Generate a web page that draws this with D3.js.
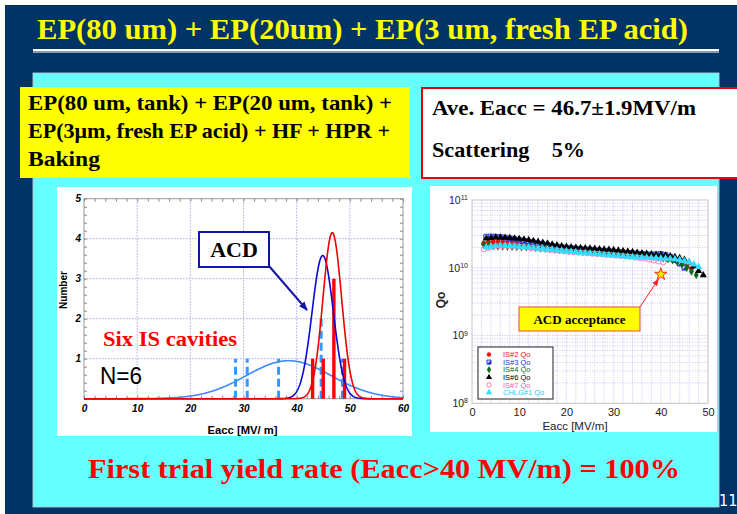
<!DOCTYPE html>
<html>
<head>
<meta charset="utf-8">
<script src="https://cdn.jsdelivr.net/npm/d3@7"></script>
<style>
  html, body { margin: 0; padding: 0; background: #fff; }
  svg { display: block; }
</style>
</head>
<body>
<svg id="slide" width="737" height="514"></svg>
<script>
// ---------- text ----------
const titleText = "EP(80 um) + EP(20um) + EP(3 um, fresh EP acid)";
const recipeLines = ["EP(80 um, tank) + EP(20 um, tank) +", "EP(3\u03bcm, fresh EP acid) + HF + HPR +", "Baking"];
const summaryLines = ["Ave. Eacc = 46.7\u00b11.9MV/m", "Scattering    5%"];
const yieldText = "First trial yield rate (Eacc>40 MV/m) = 100%";
const pageNumber = "11";

// ---------- histogram of Eacc (left plot) ----------
const eaccBins = [43, 45, 47, 49];            // MV/m, red bars
const eaccCounts = [1, 1, 3, 1];
const earlierBins = [28.5, 30.7, 36.6, 44.6, 48.6]; // MV/m, dashed blue bars
const earlierCounts = [1, 1, 1, 2, 1];
// normal-distribution fits: mean, sigma, peak height
const fitMeans = [38.5, 44.9, 46.7];
const fitSigmas = [8.0, 2.0, 1.75];
const fitPeaks = [0.95, 3.58, 4.15];
const fitColors = ["#3d8bff", "#0a0ad0", "#ee0000"];
const histXTicks = [0, 10, 20, 30, 40, 50, 60];
const histYTicks = [1, 2, 3, 4, 5];

// ---------- Qo vs Eacc (right plot), Qo in units of 1e10 ----------
const seriesNames = ["IS#2 Qo", "IS#3 Qo", "IS#4 Qo", "IS#6 Qo", "IS#7 Qo", "CHLG#1 Qo"];
const is2Eacc = [2.5,3.5,4.5,5.5,6.5,7.5,8.5,9.5,10.5,11.5,12.5,13.5,14.5,15.5,16.5,17.5,18.5,19.5,20.5,21.5,22.5,23.5,24.5,25.5,26.5,27.5,28.5,29.5,30.5,31.5,32.5,33.5,34.5,35.5,36.5,37.5,38.5,39.5,40.5,41.5,42.5,43.5,44.5,45.5,46.5];
const is2Q    = [2.30,2.40,2.42,2.42,2.40,2.38,2.35,2.32,2.28,2.25,2.21,2.17,2.13,2.09,2.05,2.02,1.99,1.96,1.93,1.90,1.87,1.85,1.82,1.79,1.77,1.74,1.71,1.69,1.66,1.64,1.61,1.59,1.56,1.53,1.50,1.47,1.44,1.41,1.38,1.34,1.30,1.24,1.16,1.07,0.98];
const is3Eacc = [3,4,5,6,7,8,9,10,11,12,13,14,15,16,17,18,19,20,21,22,23,24,25,26,27,28,29,30,31,32,33,34,35,36,37,38,39,40,41,42,43,44,45];
const is3Q    = [2.88,2.90,2.88,2.84,2.78,2.72,2.65,2.58,2.50,2.43,2.36,2.29,2.22,2.16,2.10,2.05,2.01,1.98,1.95,1.92,1.89,1.87,1.85,1.82,1.80,1.78,1.76,1.73,1.71,1.68,1.66,1.64,1.62,1.60,1.58,1.57,1.58,1.60,1.55,1.45,1.30,1.15,1.00];
const is4Eacc = [2.5,3.5,4.5,5.5,6.5,7.5,8.5,9.5,10.5,11.5,12.5,13.5,14.5,15.5,16.5,17.5,18.5,19.5,20.5,21.5,22.5,23.5,24.5,25.5,26.5,27.5,28.5,29.5,30.5,31.5,32.5,33.5,34.5,35.5,36.5,37.5,38.5,39.5,40.5,41.5,42.5,43.5,44.5,45.5,46.5,47.5];
const is4Q    = [2.20,2.12,2.08,2.06,2.05,2.04,2.03,2.02,2.01,2.00,1.98,1.96,1.94,1.92,1.90,1.88,1.86,1.84,1.82,1.80,1.78,1.76,1.74,1.72,1.70,1.68,1.66,1.64,1.62,1.60,1.58,1.56,1.54,1.52,1.50,1.47,1.44,1.41,1.38,1.34,1.29,1.22,1.12,1.00,0.88,0.78];
const is6Eacc = [3,4,5,6,7,8,9,10,11,12,13,14,15,16,17,18,19,20,21,22,23,24,25,26,27,28,29,30,31,32,33,34,35,36,37,38,39,40,41,42,43,44,45,46,47,48,49];
const is6Q    = [2.70,2.76,2.80,2.80,2.78,2.76,2.72,2.68,2.63,2.57,2.50,2.43,2.36,2.29,2.22,2.16,2.10,2.05,2.02,1.99,1.97,1.95,1.93,1.91,1.89,1.87,1.85,1.83,1.80,1.77,1.74,1.71,1.68,1.65,1.62,1.59,1.57,1.55,1.52,1.49,1.45,1.40,1.32,1.20,1.05,0.90,0.78];
const is7Eacc = [2.5,3.5,4.5,5.5,6.5,7.5,8.5,9.5,10.5,11.5,12.5,13.5,14.5,15.5,16.5,17.5,18.5,19.5,20.5,21.5,22.5,23.5,24.5,25.5,26.5,27.5,28.5,29.5,30.5,31.5,32.5,33.5,34.5,35.5,36.5,37.5,38.5,39.5,40.5];
const is7Q    = [1.88,1.96,2.02,2.06,2.08,2.08,2.07,2.05,2.02,1.99,1.96,1.92,1.89,1.86,1.83,1.80,1.77,1.74,1.71,1.69,1.67,1.65,1.63,1.61,1.59,1.57,1.55,1.53,1.51,1.49,1.47,1.45,1.42,1.39,1.36,1.32,1.28,1.24,1.20];
const chlgEacc = [3,4,5,6,7,8,9,10,11,12,13,14,15,16,17,18,19,20,21,22,23,24,25,26,27,28,29,30,31,32,33,34,35,36,37,38,39,40,41,42,43,44,45,46,47,48];
const chlgQ    = [2.00,2.06,2.10,2.12,2.12,2.11,2.09,2.06,2.03,2.00,1.97,1.94,1.91,1.88,1.85,1.82,1.79,1.76,1.73,1.71,1.68,1.66,1.63,1.61,1.59,1.56,1.54,1.52,1.50,1.48,1.46,1.45,1.43,1.42,1.41,1.40,1.39,1.38,1.37,1.36,1.34,1.31,1.26,1.20,1.12,1.03];
const qoXTicks = [0, 10, 20, 30, 40, 50];
const qoYTicks = [1e8, 1e9, 1e10, 1e11];
const acceptanceEacc = 40;     // MV/m
const acceptanceQ = 8e9;

// ---------- drawing ----------
const SERIF = "'Liberation Serif','Times New Roman',Times,serif";
const SANS = "'Liberation Sans',Arial,Helvetica,sans-serif";
const svg = d3.select("#slide");

const defs = svg.append("defs");
function arrowMarker(id, color, size) {
  defs.append("marker").attr("id", id)
    .attr("viewBox", "0 0 10 10").attr("refX", 9).attr("refY", 5)
    .attr("markerUnits", "userSpaceOnUse")
    .attr("markerWidth", size).attr("markerHeight", size)
    .attr("orient", "auto")
    .append("path").attr("d", "M0,1 L10,5 L0,9 Z").attr("fill", color);
}
arrowMarker("arrowBlue", "#1414a8", 9);
arrowMarker("arrowRed", "#ff2020", 7);

// slide background
svg.append("rect").attr("width", 737).attr("height", 514).attr("fill", "#fff");
svg.append("rect").attr("x", 5).attr("y", 5).attr("width", 732).attr("height", 509).attr("fill", "#003366");

svg.append("text").attr("x", 37).attr("y", 39)
  .attr("font-family", SERIF).attr("font-weight", "bold").attr("font-size", 30)
  .attr("fill", "#ffff00").attr("textLength", 651).attr("lengthAdjust", "spacingAndGlyphs")
  .text(titleText);

svg.append("rect").attr("x", 33).attr("y", 49).attr("width", 686).attr("height", 2.5).attr("fill", "#ffffff");
svg.append("rect").attr("x", 33).attr("y", 51.5).attr("width", 686).attr("height", 1.5).attr("fill", "#8a9ab0");

// cyan content panel
svg.append("rect").attr("x", 33).attr("y", 73).attr("width", 686).attr("height", 434)
  .attr("fill", "#66ffff").attr("stroke", "#a8c0d0").attr("stroke-width", 1);

// recipe box
svg.append("rect").attr("x", 20).attr("y", 87).attr("width", 390).attr("height", 91).attr("fill", "#ffff00");
const recipeWidths = [364, 362, 72];
recipeLines.forEach((t, i) => {
  svg.append("text").attr("x", 28).attr("y", 110 + i * 28)
    .attr("font-family", SERIF).attr("font-weight", "bold").attr("font-size", 21)
    .attr("fill", "#000").attr("textLength", recipeWidths[i]).attr("lengthAdjust", "spacingAndGlyphs")
    .text(t);
});

// summary box
svg.append("rect").attr("x", 422).attr("y", 88).attr("width", 320).attr("height", 90)
  .attr("fill", "#fff").attr("stroke", "#ee0000").attr("stroke-width", 2);
const summaryWidths = [264, 153];
summaryLines.forEach((t, i) => {
  svg.append("text").attr("x", 432).attr("y", 115 + i * 42)
    .attr("font-family", SERIF).attr("font-weight", "bold").attr("font-size", 21)
    .attr("fill", "#000").attr("textLength", summaryWidths[i]).attr("lengthAdjust", "spacingAndGlyphs")
    .attr("xml:space", "preserve").style("white-space", "pre")
    .text(t);
});

// ---------- left plot: distribution of Eacc ----------
svg.append("rect").attr("x", 57).attr("y", 187).attr("width", 355).attr("height", 249).attr("fill", "#fff");
const xH = d3.scaleLinear().domain([0, 60]).range([84, 403]);
const yH = d3.scaleLinear().domain([0, 5]).range([398.7, 198.7]);
const gH = svg.append("g");

// dotted grid
gH.append("g").selectAll("line").data(histYTicks.slice(0, -1)).join("line")
  .attr("x1", xH(0)).attr("x2", xH(60)).attr("y1", d => yH(d)).attr("y2", d => yH(d))
  .attr("stroke", "#a8a8f0").attr("stroke-width", 1).attr("stroke-dasharray", "1.5,1.5");
gH.append("g").selectAll("line").data(histXTicks.slice(1, -1)).join("line")
  .attr("x1", d => xH(d)).attr("x2", d => xH(d)).attr("y1", yH(0)).attr("y2", yH(5))
  .attr("stroke", "#a8a8f0").attr("stroke-width", 1).attr("stroke-dasharray", "1.5,1.5");

// frame + minor ticks
gH.append("rect").attr("x", xH(0)).attr("y", yH(5)).attr("width", xH(60) - xH(0)).attr("height", yH(0) - yH(5))
  .attr("fill", "none").attr("stroke", "#9a9a9a").attr("stroke-width", 1);
const hMinorY = d3.range(0, 5.001, 0.2);
const hMinorX = d3.range(0, 60.001, 2);
gH.append("g").attr("transform", `translate(${xH(0)},0)`).call(d3.axisLeft(yH).tickValues(hMinorY).tickSize(-3).tickFormat(""))
  .call(g => g.select(".domain").remove()).selectAll("line").attr("stroke", "#888");
gH.append("g").attr("transform", `translate(${xH(60)},0)`).call(d3.axisRight(yH).tickValues(hMinorY).tickSize(-3).tickFormat(""))
  .call(g => g.select(".domain").remove()).selectAll("line").attr("stroke", "#888");
gH.append("g").attr("transform", `translate(0,${yH(0)})`).call(d3.axisBottom(xH).tickValues(hMinorX).tickSize(-3).tickFormat(""))
  .call(g => g.select(".domain").remove()).selectAll("line").attr("stroke", "#888");
gH.append("g").attr("transform", `translate(0,${yH(5)})`).call(d3.axisTop(xH).tickValues(hMinorX).tickSize(-3).tickFormat(""))
  .call(g => g.select(".domain").remove()).selectAll("line").attr("stroke", "#888");

// tick labels
const hyAxis = gH.append("g").attr("transform", `translate(${xH(0)},0)`)
  .call(d3.axisLeft(yH).tickValues(histYTicks).tickSize(0).tickPadding(3).tickFormat(d3.format("d")));
const hxAxis = gH.append("g").attr("transform", `translate(0,${yH(0)})`)
  .call(d3.axisBottom(xH).tickValues(histXTicks).tickSize(0).tickPadding(6).tickFormat(d3.format("d")));
[hyAxis, hxAxis].forEach(a => {
  a.select(".domain").remove();
  a.selectAll("text").attr("font-family", SANS).attr("font-weight", "bold").attr("font-style", "italic")
    .attr("font-size", 10).attr("fill", "#000");
});
gH.append("text").attr("transform", "translate(67,290) rotate(-90)").attr("text-anchor", "middle")
  .attr("font-family", SANS).attr("font-weight", "bold").attr("font-size", 11).attr("fill", "#000")
  .attr("textLength", 38).attr("lengthAdjust", "spacingAndGlyphs").text("Number");
gH.append("text").attr("x", 242.5).attr("y", 434).attr("text-anchor", "middle")
  .attr("font-family", SANS).attr("font-weight", "bold").attr("font-size", 10).attr("fill", "#000")
  .attr("textLength", 70).attr("lengthAdjust", "spacingAndGlyphs").text("Eacc [MV/ m]");

// fitted normal curves
const fitX = d3.range(0, 60.001, 0.1);
const fitLine = d3.line().x(d => xH(d[0])).y(d => yH(d[1]));
function fitPoints(i) {
  return fitX.map(x => [x, fitPeaks[i] * Math.exp(-((x - fitMeans[i]) ** 2) / (2 * fitSigmas[i] ** 2))]);
}
gH.append("path").datum(fitPoints(0)).attr("d", fitLine)
  .attr("fill", "none").attr("stroke", fitColors[0]).attr("stroke-width", 1.6);

// earlier results: dashed bars
gH.append("g").selectAll("line").data(earlierBins).join("line")
  .attr("x1", d => xH(d)).attr("x2", d => xH(d))
  .attr("y1", yH(0)).attr("y2", (d, i) => yH(earlierCounts[i]))
  .attr("stroke", "#3399ff").attr("stroke-width", 3).attr("stroke-dasharray", "8,4");

// six IS cavities: red bars
const barHalf = 0.32;
gH.append("g").selectAll("rect").data(eaccBins).join("rect")
  .attr("x", d => xH(d - barHalf)).attr("width", d => xH(d + barHalf) - xH(d - barHalf))
  .attr("y", (d, i) => yH(eaccCounts[i])).attr("height", (d, i) => yH(0) - yH(eaccCounts[i]))
  .attr("fill", "#ff0000");

gH.append("path").datum(fitPoints(1)).attr("d", fitLine)
  .attr("fill", "none").attr("stroke", fitColors[1]).attr("stroke-width", 1.6);
gH.append("path").datum(fitPoints(2)).attr("d", fitLine)
  .attr("fill", "none").attr("stroke", fitColors[2]).attr("stroke-width", 1.6);

// ACD callout
gH.append("line").attr("x1", 269).attr("y1", 266).attr("x2", 307).attr("y2", 310)
  .attr("stroke", "#1414a8").attr("stroke-width", 2).attr("marker-end", "url(#arrowBlue)");
gH.append("rect").attr("x", 199).attr("y", 232).attr("width", 70).attr("height", 35)
  .attr("fill", "#fff").attr("stroke", "#1414a8").attr("stroke-width", 2);
gH.append("text").attr("x", 234).attr("y", 257).attr("text-anchor", "middle")
  .attr("font-family", SERIF).attr("font-weight", "bold").attr("font-size", 22).attr("fill", "#000").text("ACD");

gH.append("text").attr("x", 103).attr("y", 346)
  .attr("font-family", SERIF).attr("font-weight", "bold").attr("font-size", 20).attr("fill", "#ff0000")
  .attr("textLength", 134).attr("lengthAdjust", "spacingAndGlyphs").text("Six IS cavities");
gH.append("text").attr("x", 100).attr("y", 384)
  .attr("font-family", SANS).attr("font-size", 24).attr("fill", "#000")
  .attr("textLength", 42).attr("lengthAdjust", "spacingAndGlyphs").text("N=6");

// ---------- right plot: Qo vs Eacc ----------
svg.append("rect").attr("x", 430).attr("y", 186).attr("width", 287).attr("height", 246).attr("fill", "#fff");
const xQ = d3.scaleLinear().domain([0, 50]).range([472, 708]);
const yQ = d3.scaleLog().domain([1e8, 1e11]).range([403.3, 200]);
const gQ = svg.append("g");

const qMinorY = [];
[1e8, 1e9, 1e10].forEach(dec => { for (let k = 2; k <= 9; k++) qMinorY.push(k * dec); });
const qGridX = d3.range(2, 50, 2);
gQ.append("g").selectAll("line").data(qMinorY.concat([1e9, 1e10])).join("line")
  .attr("x1", xQ(0)).attr("x2", xQ(50)).attr("y1", d => yQ(d)).attr("y2", d => yQ(d))
  .attr("stroke", "#b4b4ee").attr("stroke-width", 0.8).attr("stroke-dasharray", "1,1.5");
gQ.append("g").selectAll("line").data(qGridX).join("line")
  .attr("x1", d => xQ(d)).attr("x2", d => xQ(d)).attr("y1", yQ(1e8)).attr("y2", yQ(1e11))
  .attr("stroke", "#b4b4ee").attr("stroke-width", 0.8).attr("stroke-dasharray", "1,1.5");
gQ.append("rect").attr("x", xQ(0)).attr("y", yQ(1e11)).attr("width", xQ(50) - xQ(0)).attr("height", yQ(1e8) - yQ(1e11))
  .attr("fill", "none").attr("stroke", "#c4c4c4").attr("stroke-width", 1);

const qxAxis = gQ.append("g").attr("transform", `translate(0,${yQ(1e8)})`)
  .call(d3.axisBottom(xQ).tickValues(qoXTicks).tickSize(0).tickPadding(5).tickFormat(d3.format("d")));
qxAxis.select(".domain").remove();
qxAxis.selectAll("text").attr("font-family", SANS).attr("font-size", 11).attr("fill", "#222");

const qyAxis = gQ.append("g").attr("transform", `translate(${xQ(0)},0)`)
  .call(d3.axisLeft(yQ).tickValues(qoYTicks).tickSize(0).tickPadding(4).tickFormat(() => ""));
qyAxis.select(".domain").remove();
qyAxis.selectAll("text").attr("font-family", SANS).attr("font-size", 10.5).attr("fill", "#222")
  .each(function (d) {
    const t = d3.select(this);
    t.append("tspan").text("10");
    t.append("tspan").attr("dy", "-0.55em").attr("font-size", 7).text(Math.round(Math.log10(d)));
  });

gQ.append("text").attr("x", 575).attr("y", 429.5).attr("text-anchor", "middle")
  .attr("font-family", SANS).attr("font-size", 11.5).attr("fill", "#222").text("Eacc [MV/m]");
gQ.append("text").attr("transform", "translate(445,300) rotate(-90)").attr("text-anchor", "middle")
  .attr("font-family", SANS).attr("font-weight", "bold").attr("font-size", 12).attr("fill", "#222").text("Qo");

// marker styles per series
const halfSquare = {
  draw(ctx, size) {
    const s = Math.sqrt(size) / 2;
    ctx.moveTo(-s, -s); ctx.lineTo(s, -s); ctx.lineTo(s, s); ctx.lineTo(-s, s); ctx.closePath();
  }
};
const halfSquareFill = {
  draw(ctx, size) {
    const s = Math.sqrt(size) / 2;
    ctx.moveTo(s, -s); ctx.lineTo(s, s); ctx.lineTo(-s, s); ctx.closePath();
  }
};
const seriesData = [
  { eacc: is2Eacc, q: is2Q, type: d3.symbolCircle, size: 20, fill: "#ee1111", stroke: "none", color: "#ee1111" },
  { eacc: is3Eacc, q: is3Q, type: halfSquare, size: 22, fill: "#d8dcff", stroke: "#2a3ad8", color: "#2233dd", half: true },
  { eacc: is4Eacc, q: is4Q, type: d3.symbolDiamond, size: 20, fill: "#0a6a1a", stroke: "none", color: "#0a6a1a" },
  { eacc: is6Eacc, q: is6Q, type: d3.symbolTriangle, size: 22, fill: "#000000", stroke: "none", color: "#000000" },
  { eacc: is7Eacc, q: is7Q, type: d3.symbolCircle, size: 20, fill: "none", stroke: "#ff77bb", color: "#ff55aa" },
  { eacc: chlgEacc, q: chlgQ, type: d3.symbolTriangle, size: 24, fill: "#33ddff", stroke: "none", color: "#22ccff" }
];

function drawMarker(sel, s) {
  sel.append("path").attr("d", d3.symbol().type(s.type).size(s.size))
    .attr("fill", s.fill).attr("stroke", s.stroke).attr("stroke-width", 1);
  if (s.half) {
    sel.append("path").attr("d", d3.symbol().type(halfSquareFill).size(s.size)).attr("fill", s.stroke);
  }
}

seriesData.forEach(s => {
  const pts = s.eacc.map((e, i) => [e, s.q[i] * 1e10]);
  gQ.append("g").selectAll("g").data(pts).join("g")
    .attr("transform", d => `translate(${xQ(d[0])},${yQ(d[1])})`)
    .each(function () { drawMarker(d3.select(this), s); });
});

// legend
const lg = gQ.append("g");
lg.append("rect").attr("x", 478).attr("y", 347).attr("width", 75).attr("height", 52)
  .attr("fill", "#fff").attr("stroke", "#444").attr("stroke-width", 1.2);
seriesNames.forEach((name, i) => {
  const s = seriesData[i];
  const y = 354.5 + i * 7.6;
  const m = lg.append("g").attr("transform", `translate(489,${y})`);
  drawMarker(m, Object.assign({}, s, { size: s.size * 0.75 }));
  lg.append("text").attr("x", 503).attr("y", y + 2.6).attr("font-family", SANS).attr("font-size", 7.5)
    .attr("fill", s.color).text(name);
});

// ACD acceptance marker
const starX = xQ(acceptanceEacc), starY = yQ(acceptanceQ);
gQ.append("line").attr("x1", 640).attr("y1", 307).attr("x2", starX - 2.5).attr("y2", starY + 5)
  .attr("stroke", "#ff2020").attr("stroke-width", 1).attr("marker-end", "url(#arrowRed)");
gQ.append("path").attr("d", d3.symbol().type(d3.symbolStar).size(48))
  .attr("transform", `translate(${starX},${starY})`)
  .attr("fill", "#ffee00").attr("stroke", "#ff3300").attr("stroke-width", 1);
gQ.append("rect").attr("x", 519).attr("y", 307).attr("width", 121).attr("height", 24)
  .attr("fill", "#ffff00").attr("stroke", "#ee4444").attr("stroke-width", 1);
gQ.append("text").attr("x", 579.5).attr("y", 323.5).attr("text-anchor", "middle")
  .attr("font-family", SERIF).attr("font-weight", "bold").attr("font-size", 13).attr("fill", "#000")
  .text("ACD acceptance");

// ---------- bottom line ----------
svg.append("text").attr("x", 88).attr("y", 478)
  .attr("font-family", SERIF).attr("font-weight", "bold").attr("font-size", 28).attr("fill", "#ff0000")
  .attr("textLength", 592).attr("lengthAdjust", "spacingAndGlyphs").text(yieldText);

svg.append("text").attr("x", 719).attr("y", 506)
  .attr("font-family", "'DejaVu Sans Condensed','DejaVu Sans',sans-serif").attr("font-size", 16)
  .attr("fill", "#ffffff").text(pageNumber);
</script>
</body>
</html>
